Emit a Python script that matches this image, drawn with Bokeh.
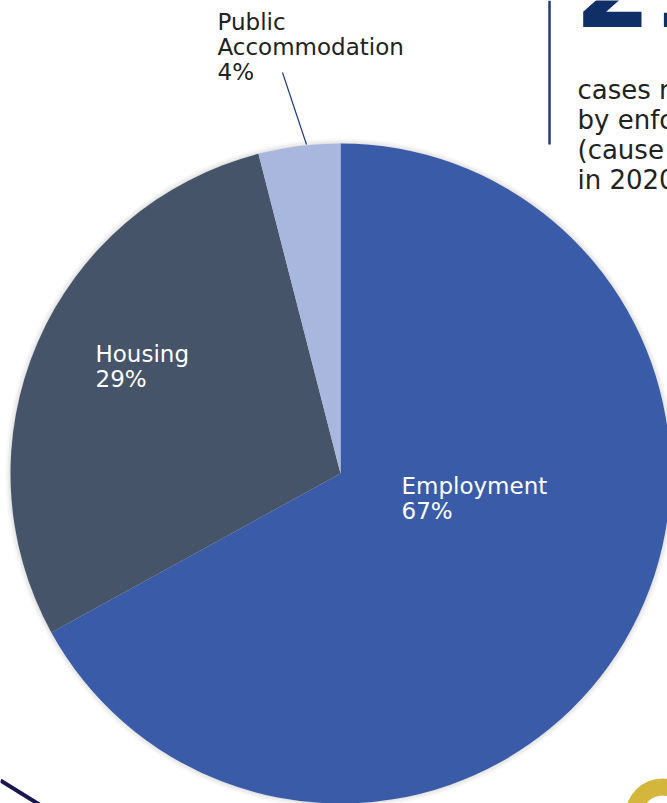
import numpy as np
from bokeh.plotting import figure
from bokeh.models import ColumnDataSource, Range1d, Label
from bokeh.embed import file_html
from bokeh.resources import INLINE

categories = ["Employment", "Housing", "Public Accommodation"]
label_lines = [["Employment", "67%"], ["Housing", "29%"], ["Public", "Accommodation", "4%"]]
values = [67, 29, 4]
colors = ["#3a5ba8", "#46546a", "#a9b6dd"]

W, H = 667, 803
def Y(y):
    return H - y

p = figure(width=W, height=H, output_backend="svg", toolbar_location=None,
           x_range=Range1d(0, W), y_range=Range1d(0, H), min_border=0)
p.axis.visible = False
p.grid.visible = False
p.outline_line_color = None
p.background_fill_color = "white"

cx, cy, r = 340, Y(473), 330
vals = np.array(values, dtype=float)
frac = vals / vals.sum()
cum = np.concatenate([[0], np.cumsum(frac)])
start = np.pi / 2 - cum[:-1] * 2 * np.pi
end = np.pi / 2 - cum[1:] * 2 * np.pi
src = ColumnDataSource(dict(cat=categories, start=start, end=end, color=colors))
# soft shadow
for i, a in enumerate([0.03, 0.04, 0.05]):
    p.circle(x=cx, y=cy, radius=r + 5 - 2 * i, fill_color="#000000", fill_alpha=a, line_color=None)
p.wedge(x=cx, y=cy, radius=r, start_angle="start", end_angle="end", direction="clock",
        fill_color="color", line_color=None, source=src)

font = "DejaVu Sans"
fs = "23px"
def add_lines(x, y_top, lines, color, lh=25):
    for i, t in enumerate(lines):
        p.add_layout(Label(x=x, y=Y(y_top + i * lh), text=t, text_font=font, text_font_size=fs,
                           text_color=color, text_baseline="top"))

add_lines(401, 472, label_lines[0], "white")
add_lines(95, 340, label_lines[1], "white")
add_lines(217, 8, label_lines[2], "#222222")

# leader line
p.line(x=[282, 306], y=[Y(72), Y(144)], line_color="#1f3c78", line_width=1.2)

# right side text block (cropped at the window edge, as in the reference)
p.line(x=[549, 549], y=[Y(0), Y(144)], line_color="#1f3c78", line_width=2.5)
p.add_layout(Label(x=574, y=Y(-14), text="21", text_font=font, text_font_size="110px",
                   text_font_style="bold", text_color="#0f2f66", text_baseline="alphabetic"))
for i, t in enumerate(["cases resolved", "by enforcement", "(cause findings)", "in 2020"]):
    p.add_layout(Label(x=577, y=Y(74 + i * 30), text=t, text_font=font, text_font_size="26px",
                       text_color="#222222", text_baseline="top"))

# decorative shapes
p.line(x=[0, 42], y=[Y(780), Y(806)], line_color="#1a1652", line_width=4)
p.annulus(x=662, y=Y(815), inner_radius=20, outer_radius=37, fill_color="#d4b63c", line_color=None)

open("out.html", "w").write(file_html(p, INLINE))
